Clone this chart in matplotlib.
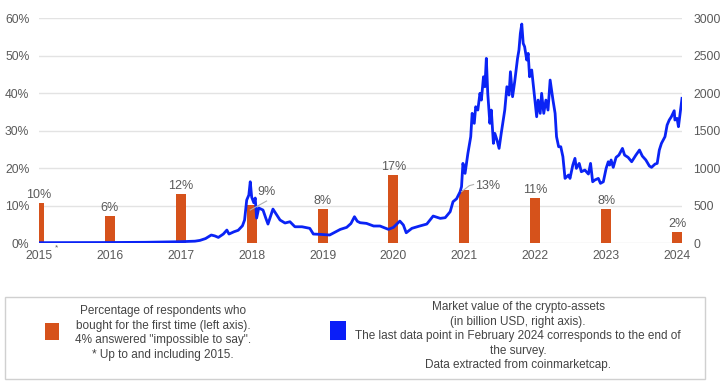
import matplotlib
matplotlib.use("Agg")
import matplotlib.pyplot as plt
from matplotlib.patches import Rectangle

# ----------------------------------------------------------------------
# Data
# ----------------------------------------------------------------------
bar_years = [2015, 2016, 2017, 2018, 2019, 2020, 2021, 2022, 2023, 2024]
bar_heights = [10.7, 7.2, 13.1, 10.1, 9.1, 18.1, 14.1, 12.0, 9.1, 2.9]
bar_labels = ["10%", "6%", "12%", "9%", "8%", "17%", "13%", "11%", "8%", "2%"]

# market value of crypto-assets, billion USD (decimal year, value)
mcap_dates = [
    2015.00, 2015.50, 2016.00, 2016.50, 2017.00, 2017.20, 2017.27, 2017.35,
    2017.43, 2017.48, 2017.53, 2017.60, 2017.65, 2017.68, 2017.75, 2017.81,
    2017.87, 2017.90, 2017.93, 2017.96, 2017.98, 2018.00, 2018.03, 2018.05,
    2018.07, 2018.10, 2018.16, 2018.20, 2018.23, 2018.30, 2018.35, 2018.40,
    2018.47, 2018.54, 2018.61, 2018.71, 2018.82, 2018.87, 2018.96, 2019.10,
    2019.25, 2019.34, 2019.40, 2019.45, 2019.49, 2019.53, 2019.62, 2019.72,
    2019.81, 2019.93, 2020.00, 2020.09, 2020.14, 2020.18, 2020.26, 2020.37,
    2020.47, 2020.56, 2020.66, 2020.73, 2020.80, 2020.84, 2020.89, 2020.94,
    2020.96, 2020.98, 2021.01, 2021.05, 2021.09, 2021.11, 2021.14, 2021.16,
    2021.19, 2021.22, 2021.24, 2021.27, 2021.29, 2021.31, 2021.33, 2021.36,
    2021.38, 2021.41, 2021.43, 2021.46, 2021.49, 2021.52, 2021.57, 2021.60,
    2021.63, 2021.65, 2021.68, 2021.71, 2021.75, 2021.77, 2021.79, 2021.81,
    2021.83, 2021.85, 2021.88, 2021.90, 2021.92, 2021.95, 2021.98, 2022.02,
    2022.04, 2022.07, 2022.09, 2022.12, 2022.15, 2022.18, 2022.21, 2022.25,
    2022.28, 2022.30, 2022.33, 2022.36, 2022.39, 2022.42, 2022.47, 2022.49,
    2022.53, 2022.56, 2022.58, 2022.62, 2022.65, 2022.70, 2022.75, 2022.78,
    2022.81, 2022.84, 2022.89, 2022.92, 2022.96, 2023.00, 2023.03, 2023.05,
    2023.07, 2023.10, 2023.14, 2023.18, 2023.23, 2023.26, 2023.31, 2023.36,
    2023.42, 2023.47, 2023.51, 2023.56, 2023.61, 2023.64, 2023.69, 2023.72,
    2023.75, 2023.78, 2023.83, 2023.86, 2023.89, 2023.92, 2023.96, 2023.97,
    2024.00, 2024.02, 2024.04, 2024.07,
]
mcap_values = [
    5, 6, 7, 10, 18, 25, 35, 60,
    107, 95, 75, 120, 173, 120, 150, 170,
    230, 307, 573, 640, 817, 613, 537, 600,
    333, 467, 440, 330, 253, 453, 380, 307,
    267, 284, 217, 217, 196, 120, 116, 107,
    182, 209, 260, 351, 290, 271, 262, 227,
    227, 182, 209, 293, 240, 137, 196, 227,
    253, 360, 329, 338, 418, 551, 590, 684,
    751, 1062, 929, 1196, 1418, 1729, 1596, 1817,
    1773, 1996, 1906, 2217, 2084, 2462, 1996, 1596,
    1773, 1329, 1462, 1373, 1262, 1462, 1773, 2084,
    1973, 2284, 1951, 2151, 2462, 2573, 2796, 2920,
    2662, 2618, 2440, 2529, 2217, 2307, 2040, 1684,
    1906, 1729, 1996, 1729, 1906, 1773, 2173, 1906,
    1729, 1418, 1284, 1284, 1151, 862, 907, 862,
    1040, 1129, 996, 1062, 951, 973, 920, 1062,
    817, 840, 862, 796, 817, 996, 1084, 1040,
    1107, 1009, 1142, 1173, 1262, 1173, 1142, 1084,
    1173, 1240, 1160, 1107, 1027, 1009, 1053, 1062,
    1240, 1329, 1418, 1573, 1640, 1684, 1764, 1640,
    1662, 1551, 1707, 1929,
]

left_ticks = [0, 10, 20, 30, 40, 50, 60]
right_ticks = [0, 500, 1000, 1500, 2000, 2500, 3000]
year_ticks = list(range(2015, 2025))

BAR_COLOR = "#d6521b"
LINE_COLOR = "#0a23f5"
TEXT_COLOR = "#5a5a5a"

plt.rcParams["font.family"] = ["Liberation Sans", "DejaVu Sans"]

fig = plt.figure(figsize=(7.22, 3.92), dpi=100)
ax = fig.add_axes([0.054, 0.380, 0.8906, 0.574])
ax2 = ax.twinx()

# ----------------------------------------------------------------------
# Bars (left axis)
# ----------------------------------------------------------------------
ax.bar(bar_years, bar_heights, width=0.14, color=BAR_COLOR, zorder=2)
ax.set_xlim(2015, 2024.07)
ax.set_ylim(0, 60)
ax.set_yticks(left_ticks)
ax.set_yticklabels([f"{t}%" for t in left_ticks])
ax.set_xticks(year_ticks)
ax.set_xticklabels([str(y) for y in year_ticks])
ax.grid(axis="y", color="#e3e3e3", lw=1, zorder=0)
ax.set_axisbelow(True)
ax.tick_params(axis="y", length=0, pad=7, labelsize=8.7, labelcolor=TEXT_COLOR)
ax.tick_params(axis="x", direction="in", length=4, width=1, color="white",
               pad=5, labelsize=8.7, labelcolor=TEXT_COLOR)
for s in ax.spines.values():
    s.set_visible(False)

# ----------------------------------------------------------------------
# Market value line (right axis)
# ----------------------------------------------------------------------
ax2.plot(mcap_dates, mcap_values, color=LINE_COLOR, lw=2, zorder=3)
ax2.set_ylim(0, 3000)
ax2.set_yticks(right_ticks)
ax2.tick_params(axis="y", length=0, pad=8, labelsize=8.7, labelcolor=TEXT_COLOR)
for s in ax2.spines.values():
    s.set_visible(False)

# ----------------------------------------------------------------------
# Bar value labels
# ----------------------------------------------------------------------
for yr, h, lab in zip(bar_years, bar_heights, bar_labels):
    if yr in (2018, 2021):
        continue
    ax2.annotate(lab, xy=(yr, h * 50), xytext=(0, 1.5), textcoords="offset points",
                 ha="center", va="bottom", fontsize=9, color=TEXT_COLOR, zorder=5)

# offset labels with leader lines
ax2.plot([2017.98, 2018.21], [8.8 * 50, 11.2 * 50], color="#b0b0b0", lw=0.8, zorder=4)
ax2.text(2018.21, 13.5 * 50, "9%", ha="center", va="center", fontsize=9,
         color=TEXT_COLOR, zorder=5)
ax2.plot([2020.96, 2021.07, 2021.13], [13.7 * 50, 15.3 * 50, 15.6 * 50],
         color="#b0b0b0", lw=0.8, zorder=4)
ax2.text(2021.33, 15.2 * 50, "13%", ha="center", va="center", fontsize=9,
         color=TEXT_COLOR, zorder=5)

# small asterisk next to 2015
ax.text(2015.24, -1.4, "*", ha="center", va="center", fontsize=6,
        color=TEXT_COLOR, clip_on=False)

# ----------------------------------------------------------------------
# Legend box
# ----------------------------------------------------------------------
fig.patches.append(Rectangle((5 / 722, 1 - 379 / 392), 700 / 722, 82 / 392,
                             transform=fig.transFigure, facecolor="white",
                             edgecolor="#d0d0d0", lw=1))
fig.patches.append(Rectangle((45 / 722, 1 - 340 / 392), 14 / 722, 17 / 392,
                             transform=fig.transFigure, facecolor=BAR_COLOR,
                             edgecolor="none"))
fig.patches.append(Rectangle((330 / 722, 1 - 340 / 392), 16 / 722, 19 / 392,
                             transform=fig.transFigure, facecolor="#0a1ef8",
                             edgecolor="none"))

left_lines = [
    "Percentage of respondents who",
    "bought for the first time (left axis).",
    '4% answered "impossible to say".',
    "* Up to and including 2015.",
]
right_lines = [
    "Market value of the crypto-assets",
    "(in billion USD, right axis).",
    "The last data point in February 2024 corresponds to the end of",
    "the survey.",
    "Data extracted from coinmarketcap.",
]
for i, line in enumerate(left_lines):
    fig.text(163 / 722, 1 - (311 + 14.6 * i) / 392, line, ha="center", va="center",
             fontsize=8.5, color="#444444")
for i, line in enumerate(right_lines):
    fig.text(518 / 722, 1 - (307 + 14.6 * i) / 392, line, ha="center", va="center",
             fontsize=8.5, color="#444444")

fig.savefig("out.png", dpi=100)
